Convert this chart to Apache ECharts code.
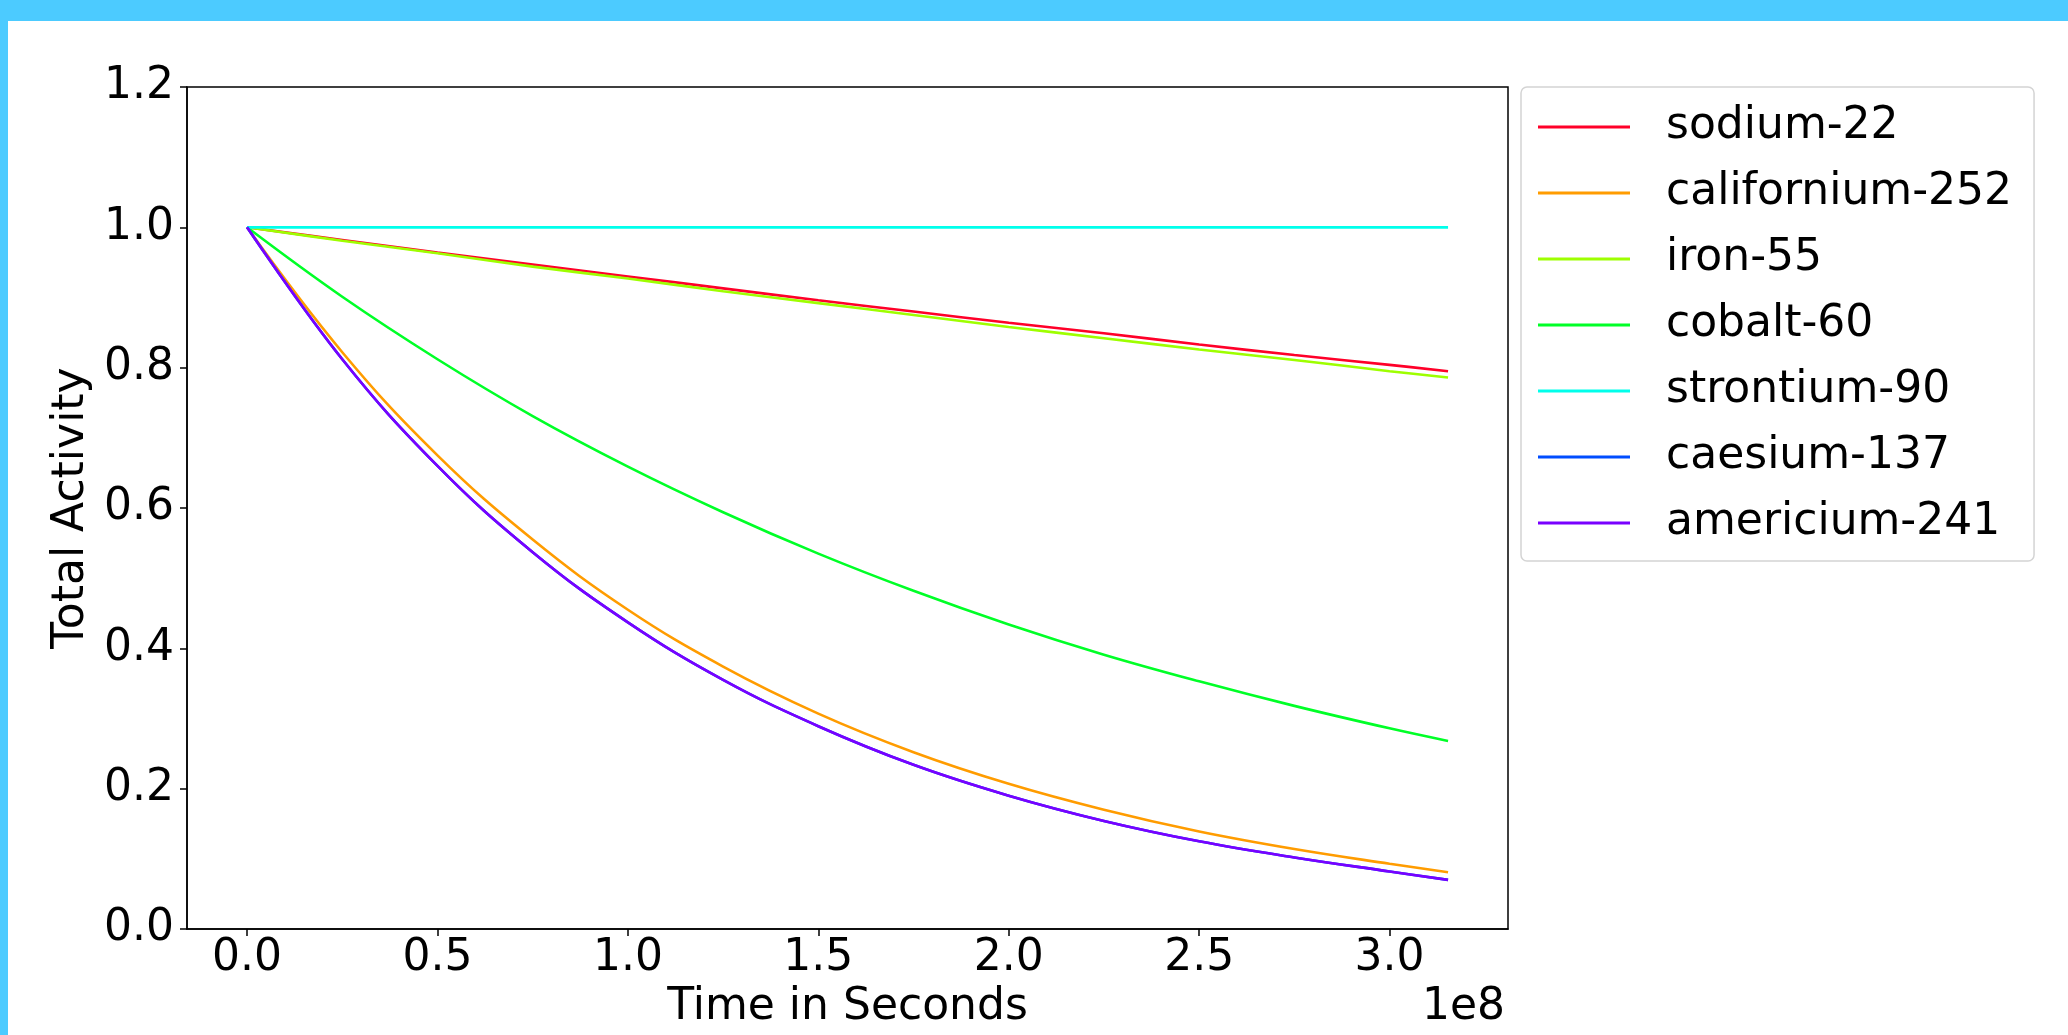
<!DOCTYPE html>
<html>
<head>
<meta charset="utf-8">
<script src="https://cdn.jsdelivr.net/npm/echarts@6/dist/echarts.min.js"></script>
<style>
  html,body{margin:0;padding:0;background:#4ccbff;overflow:hidden;}
  #frame{position:absolute;left:8px;top:21px;width:2060px;height:1014px;background:#fff;}
  #box{position:absolute;left:0;top:0;width:2068px;height:1035px;}
</style>
</head>
<body>
<div id="frame"></div>
<div id="box"></div>
<script>
// time in seconds (10 years ~ 3.1536e8 s)
var times = [0, 0.25e8, 0.5e8, 0.75e8, 1.0e8, 1.25e8, 1.5e8, 1.75e8, 2.0e8, 2.25e8, 2.5e8, 2.75e8, 3.0e8, 3.1536e8];

var sodium22      = [1, 0.982, 0.964, 0.947, 0.930, 0.913, 0.896, 0.880, 0.864, 0.849, 0.833, 0.818, 0.804, 0.795];
var californium252= [1, 0.822, 0.675, 0.555, 0.455, 0.374, 0.307, 0.252, 0.207, 0.170, 0.139, 0.114, 0.093, 0.081];
var iron55        = [1, 0.981, 0.963, 0.944, 0.927, 0.909, 0.892, 0.875, 0.858, 0.842, 0.826, 0.811, 0.795, 0.786];
var cobalt60      = [1, 0.901, 0.812, 0.731, 0.659, 0.594, 0.535, 0.482, 0.434, 0.391, 0.353, 0.318, 0.286, 0.268];
var strontium90   = [1, 1, 1, 1, 1, 1, 1, 1, 1, 1, 1, 1, 1, 1];
var caesium137    = [1, 0.812, 0.660, 0.537, 0.437, 0.355, 0.289, 0.234, 0.190, 0.154, 0.125, 0.102, 0.082, 0.070];
var americium241  = [1, 0.812, 0.660, 0.537, 0.437, 0.355, 0.289, 0.234, 0.190, 0.154, 0.125, 0.102, 0.082, 0.070];

var names  = ['sodium-22','californium-252','iron-55','cobalt-60','strontium-90','caesium-137','americium-241'];
var values = [sodium22, californium252, iron55, cobalt60, strontium90, caesium137, americium241];
var colors = ['#ff0029','#ff9c00','#9eff00','#00ff27','#00ffeb','#004dff','#7900ff'];

var xTicks = [0, 0.5e8, 1.0e8, 1.5e8, 2.0e8, 2.5e8, 3.0e8];
var yTicks = [0, 0.2, 0.4, 0.6, 0.8, 1.0, 1.2];

var font = 'DejaVu Sans';

var series = [];
for (var i = 0; i < names.length; i++) {
  series.push({
    name: names[i],
    type: 'line',
    symbol: 'none',
    smooth: 0.4,
    color: colors[i],
    lineStyle: {width: 2.6, color: colors[i]},
    data: times.map(function (t, j) { return [t, values[i][j]]; })
  });
}

var myChart = echarts.init(document.getElementById('box'), null, {renderer: 'canvas'});
var option = {
  animation: false,
  backgroundColor: 'transparent',
  grid: {
    left: 187, top: 87, width: 1321, height: 842,
    show: true, borderColor: '#000', borderWidth: 1.5, backgroundColor: 'transparent'
  },
  xAxis: {
    type: 'value',
    min: -0.1577e8,
    max: 3.311e8,
    axisLine: {show: true, onZero: false, lineStyle: {color: '#000', width: 1.5}},
    axisTick: {show: true, length: 7, customValues: xTicks, lineStyle: {color: '#000', width: 1.5}},
    axisLabel: {
      customValues: xTicks,
      formatter: function (v) { return (v / 1e8).toFixed(1); },
      fontSize: 44, fontFamily: font, color: '#000', margin: 8
    },
    splitLine: {show: false},
    name: 'Time in Seconds',
    nameLocation: 'middle',
    nameGap: 57,
    nameTextStyle: {fontSize: 44, fontFamily: font, color: '#000'}
  },
  yAxis: {
    type: 'value',
    min: 0,
    max: 1.2,
    interval: 0.2,
    axisLine: {show: true, onZero: false, lineStyle: {color: '#000', width: 1.5}},
    axisTick: {show: true, length: 7, customValues: yTicks, lineStyle: {color: '#000', width: 1.5}},
    axisLabel: {
      customValues: yTicks,
      formatter: function (v) { return v.toFixed(1); },
      fontSize: 44, fontFamily: font, color: '#000', margin: 13
    },
    splitLine: {show: false},
    name: 'Total Activity',
    nameLocation: 'middle',
    nameGap: 89,
    nameTextStyle: {fontSize: 44, fontFamily: font, color: '#000'}
  },
  legend: {
    orient: 'vertical',
    left: 1521,
    top: 87,
    icon: 'rect',
    itemWidth: 92,
    itemHeight: 3,
    itemGap: 22,
    padding: [18, 22, 16, 17],
    borderColor: '#d4d4d4',
    borderWidth: 1.5,
    borderRadius: 6,
    backgroundColor: '#fff',
    textStyle: {fontSize: 44, fontFamily: font, color: '#000', lineHeight: 44, padding: [0, 0, 0, 31]},
    data: names
  },
  graphic: [{
    type: 'text',
    right: 2068 - 1505,
    top: 986,
    style: {text: '1e8', fontSize: 44, fontFamily: font, fill: '#000'}
  }],
  series: series
};
myChart.setOption(option);
</script>
</body>
</html>
